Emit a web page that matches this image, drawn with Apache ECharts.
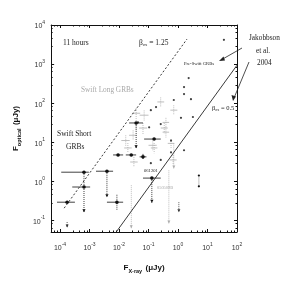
<!DOCTYPE html>
<html><head><meta charset="utf-8">
<script src="https://cdn.jsdelivr.net/npm/echarts@6/dist/echarts.min.js"></script>
<style>html,body{margin:0;padding:0;background:#fff}#c{width:300px;height:283px}</style>
</head><body><div id="c"></div>
<script>
// ---- data ----
var xTicks = [1e-4, 1e-3, 1e-2, 1e-1, 1e0, 1e1, 1e2];
var yTicks = [1e-1, 1e0, 1e1, 1e2, 1e3, 1e4];

// Swift short GRBs (black, with error bars)
var shortX   = [1.74e-4, 6.5e-4, 6.5e-4, 3.9e-3, 8.5e-3, 9.3e-3, 0.026, 0.065, 0.038, 0.155, 0.13];
var shortY   = [0.29, 1.7, 0.71, 1.8, 0.29, 4.7, 4.7, 4.2, 31, 12, 1.2];
var shortXLo = [7.9e-5, 1.1e-4, 2.6e-4, 1.66e-3, 3.9e-3, 6.3e-3, 0.017, 0.05, 0.022, 0.071, 0.065];
var shortXHi = [3.2e-4, 9.5e-4, 1.05e-3, 6.3e-3, 0.0138, 0.0138, 0.038, 0.085, 0.065, 0.26, 0.26];
var shortYLo = [0.29, 0.71, 0.16, 0.39, 0.18, 4.7, 4.7, 3.5, 7, 12, 0.28];
var shortYHi = [0.29, 1.7, 0.71, 1.8, 0.45, 4.7, 4.7, 5, 31, 12, 1.2];
var shortLim = [0, 0, 1, 1, 0, 0, 0, 0, 1, 0, 1];

// Swift long GRBs (grey crosses)
var longX   = [0.038, 0.071, 0.065, 0.26, 0.39, 0.34, 0.72, 0.030, 0.14, 0.155, 0.58, 0.020, 0.032, 0.68, 0.017, 0.39];
var longY   = [55, 49, 23, 107, 32, 23, 66, 15, 8.3, 7.1, 9.3, 7.1, 3.1, 3.5, 11, 18];
var longXLo = [0.028, 0.05, 0.048, 0.2, 0.3, 0.26, 0.55, 0.022, 0.1, 0.12, 0.45, 0.015, 0.024, 0.52, 0.012, 0.3];
var longXHi = [0.052, 0.1, 0.09, 0.34, 0.5, 0.45, 0.95, 0.04, 0.19, 0.2, 0.75, 0.027, 0.043, 0.9, 0.023, 0.5];
var longYLo = [20, 35, 16, 80, 24, 17, 50, 11, 6, 5.2, 7, 5.3, 2.3, 2.6, 8, 13];
var longYHi = [75, 65, 31, 140, 42, 31, 88, 20, 11, 9.5, 12, 9.5, 4.2, 4.7, 15, 24];

// grey upper-limit drops
var limX      = [0.026, 0.49, 0.72];
var limTop    = [0.79, 1.9, 9.3];
var limBottom = [0.062, 0.083, 2.1];
// black upper-limit drops
var blimX      = [1.07, 1.74e-4];
var blimTop    = [0.29, 0.09];
var blimBottom = [0.16, 0.065];
// black pair with a vertical bar
var pairX  = [5.1, 5.1];
var pairY  = [1.4, 0.74];

// Pre-Swift GRBs (small black dots)
var preX = [36, 2.3, 1.6, 1.6, 2.75, 0.72, 3.2, 1.26, 0.12, 0.26, 0.044, 0.105, 0.58, 0.58, 1.6, 0.26, 0.12, 0.18];
var preY = [4170, 437, 257, 170, 126, 120, 44, 42, 66, 29, 32, 24, 11, 5.5, 6.2, 3.5, 2.9, 79];

// beta_OX lines
var betaHighX = [1.38e-4, 2.02];
var betaHighY = [0.204, 4365];
var betaLowX  = [7.9e-3, 100];
var betaLowY  = [0.049, 933];

// ---- build ----
function zip(){ var a=arguments, out=[]; for (var i=0;i<a[0].length;i++){ var r=[]; for (var j=0;j<a.length;j++) r.push(a[j][i]); out.push(r);} return out; }

var SERIF = 'Liberation Serif';
var SANS = 'Liberation Sans';
function powLabel(v){
  var e = Math.log10(v), r = Math.round(e);
  if (Math.abs(e - r) > 1e-6) return '';
  return '{b|10}{s|' + r + '}';
}
var tickRich = { b:{fontSize:7, fontFamily:SANS, color:'#333', lineHeight:10, verticalAlign:'bottom'}, s:{fontSize:5, fontFamily:SANS, color:'#333', lineHeight:10, verticalAlign:'top'} };

function errRender(color, dotted, marker){
  return function(params, api){
    var x=api.value(0), y=api.value(1), xlo=api.value(2), xhi=api.value(3), ylo=api.value(4), yhi=api.value(5), lim=api.value(6);
    var p=api.coord([x,y]), l=api.coord([xlo,y]), r=api.coord([xhi,y]), t=api.coord([x,yhi]), b=api.coord([x,ylo]);
    var ch=[];
    ch.push({type:'line', shape:{x1:l[0],y1:l[1],x2:r[0],y2:r[1]}, style:{stroke:color, lineWidth:0.8}});
    if (Math.abs(t[1]-b[1])>0.5) ch.push({type:'line', shape:{x1:t[0],y1:t[1],x2:b[0],y2:b[1]}, style:{stroke:color, lineWidth:0.8, lineDash: dotted?[1,1]:null}});
    if (lim) ch.push({type:'polygon', shape:{points:[[b[0]-1.6,b[1]-3],[b[0]+1.6,b[1]-3],[b[0],b[1]]]}, style:{fill:color}});
    if (marker) ch.push({type:'circle', shape:{cx:p[0],cy:p[1],r:1.8}, style:{fill:color}});
    return {type:'group', children:ch};
  };
}
function limRender(color){
  return function(params, api){
    var x=api.value(0), t=api.coord([x,api.value(1)]), b=api.coord([x,api.value(2)]);
    return {type:'group', children:[
      {type:'line', shape:{x1:t[0],y1:t[1],x2:b[0],y2:b[1]}, style:{stroke:color, lineWidth:0.8, lineDash:[1,1]}},
      {type:'polygon', shape:{points:[[b[0]-1.5,b[1]-3],[b[0]+1.5,b[1]-3],[b[0],b[1]]]}, style:{fill:color}}
    ]};
  };
}

var axCommon = {
  type:'log', logBase:10,
  axisLine:{show:true, lineStyle:{color:'#111', width:1}},
  axisTick:{show:true, inside:true, length:3, lineStyle:{color:'#111'}},
  minorTick:{show:true, splitNumber:5, length:1.5, lineStyle:{color:'#111'}},
  splitLine:{show:false}
};

var option = {
  animation:false,
  backgroundColor:'#fff',
  grid:{left:51, right:63, top:25, bottom:51},
  xAxis:[
    Object.assign({}, axCommon, {min:5e-5, max:100, splitNumber:6, position:'bottom',
      axisLabel:{formatter:powLabel, margin:10, rich:tickRich},
      name:'{f|F}{sub|X-ray} {f|(μJy)}', nameLocation:'middle', nameGap:28,
      nameTextStyle:{rich:{f:{fontSize:8, fontWeight:'bold', fontFamily:SANS, color:'#111', lineHeight:12, verticalAlign:'bottom'}, sub:{fontSize:5.5, fontWeight:'bold', fontFamily:SANS, color:'#111', lineHeight:12, verticalAlign:'bottom', padding:[0,0,-2,0]}}}}),
    Object.assign({}, axCommon, {min:5e-5, max:100, splitNumber:6, position:'top', axisLabel:{show:false}})
  ],
  yAxis:[
    Object.assign({}, axCommon, {min:0.05, max:1e4, splitNumber:5, position:'left',
      axisLabel:{formatter:powLabel, margin:6, rich:tickRich},
      name:'{f|F}{sub|optical} {f|(μJy)}', nameLocation:'middle', nameGap:25,
      nameTextStyle:{rich:{f:{fontSize:8, fontWeight:'bold', fontFamily:SANS, color:'#111', lineHeight:12, verticalAlign:'bottom'}, sub:{fontSize:5.5, fontWeight:'bold', fontFamily:SANS, color:'#111', lineHeight:12, verticalAlign:'bottom', padding:[0,0,-2,0]}}}}),
    Object.assign({}, axCommon, {min:0.05, max:1e4, splitNumber:5, position:'right', axisLabel:{show:false}})
  ],
  series:[
    {type:'line', data:zip(betaHighX, betaHighY), showSymbol:false, symbol:'none', clip:true,
      lineStyle:{color:'#222', width:0.9, type:[2,2]}},
    {type:'line', data:zip(betaLowX, betaLowY), showSymbol:false, symbol:'none', clip:true,
      lineStyle:{color:'#222', width:0.9}},
    {type:'custom', renderItem:errRender('#adadad', true, false), clip:true,
      encode:{x:[0,2,3], y:[1,4,5]},
      data:zip(longX, longY, longXLo, longXHi, longYLo, longYHi, longX.map(function(){return 0;}))},
    {type:'custom', renderItem:limRender('#adadad'), clip:true, encode:{x:0, y:[1,2]},
      data:zip(limX, limTop, limBottom)},
    {type:'custom', renderItem:limRender('#333'), clip:true, encode:{x:0, y:[1,2]},
      data:zip(blimX, blimTop, blimBottom)},
    {type:'scatter', data:zip(preX, preY), symbol:'circle', symbolSize:2.2, itemStyle:{color:'#111'}},
    {type:'line', data:zip(pairX, pairY), symbol:'circle', symbolSize:2.2, lineStyle:{color:'#555', width:0.7, type:[1,1]}, itemStyle:{color:'#111'}},
    {type:'custom', renderItem:errRender('#111', true, true), clip:true,
      encode:{x:[0,2,3], y:[1,4,5]},
      data:zip(shortX, shortY, shortXLo, shortXHi, shortYLo, shortYHi, shortLim)}
  ],
  graphic:[
    {type:'text', left:63, top:39, style:{text:'11 hours', font:'7.5px '+SERIF, fill:'#222'}},
    {type:'text', left:139, top:39, style:{text:'{b|β}{s|ox}{b| = 1.25}', rich:{b:{font:'7.5px '+SERIF, fill:'#222', lineHeight:10, verticalAlign:'bottom'}, s:{font:'4.5px '+SERIF, fill:'#222', lineHeight:10, verticalAlign:'bottom'}}}},
    {type:'text', left:81, top:87, style:{text:'Swift Long GRBs', font:'7.3px '+SERIF, fill:'#a8a8a8'}},
    {type:'text', left:57, top:130, style:{text:'Swift Short', font:'7.5px '+SERIF, fill:'#222'}},
    {type:'text', left:66, top:143, style:{text:'GRBs', font:'7.5px '+SERIF, fill:'#222'}},
    {type:'text', left:184, top:61, style:{text:'Pre-Swift GRBs', font:'4.6px '+SERIF, fill:'#222'}},
    {type:'text', left:249, top:35, style:{text:'Jakobbson', font:'7.3px '+SERIF, fill:'#222'}},
    {type:'text', left:256, top:48, style:{text:'et al.', font:'7.3px '+SERIF, fill:'#222'}},
    {type:'text', left:257, top:60, style:{text:'2004', font:'7.3px '+SERIF, fill:'#222'}},
    {type:'text', left:212, top:105, style:{text:'{b|β}{s|ox}{b| = 0.5}', rich:{b:{font:'6.5px '+SERIF, fill:'#222', lineHeight:10, verticalAlign:'bottom'}, s:{font:'4px '+SERIF, fill:'#222', lineHeight:10, verticalAlign:'bottom'}}}},
    {type:'text', left:144, top:168, style:{text:'061201', font:'4.6px '+SERIF, fill:'#222'}},
    {type:'text', left:157, top:186, style:{text:'050509B', font:'4.4px '+SERIF, fill:'#a8a8a8'}},
    {type:'line', shape:{x1:242, y1:48, x2:221, y2:60}, style:{stroke:'#222', lineWidth:0.8}},
    {type:'polygon', shape:{points:[[219,61],[223.5,56.5],[225,60.5]]}, style:{fill:'#222'}},
    {type:'line', shape:{x1:249, y1:62, x2:234, y2:98}, style:{stroke:'#222', lineWidth:0.8}},
    {type:'polygon', shape:{points:[[233,101],[231.5,95],[236,96.5]]}, style:{fill:'#222'}}
  ]
};
var chart = echarts.init(document.getElementById('c'), null, {renderer:'canvas'});
chart.setOption(option);
</script>
</body></html>
